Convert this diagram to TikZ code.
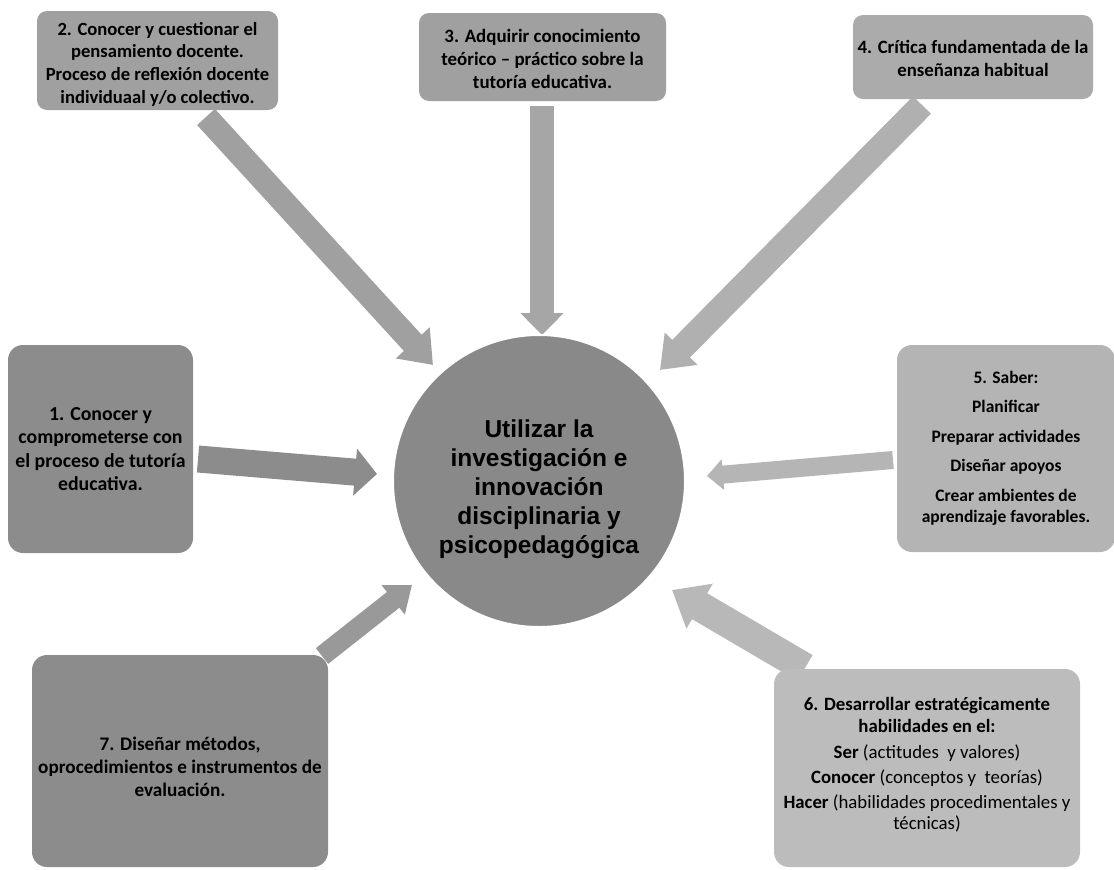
\documentclass[tikz,border=0pt]{standalone}
\usepackage{fontspec}
\setmainfont{Carlito}
\newfontfamily\titlefont{Liberation Sans}
\usetikzlibrary{arrows.meta}
\definecolor{gA}{HTML}{A0A0A0}
\definecolor{gB}{HTML}{ABABAB}
\definecolor{gC}{HTML}{8C8C8C}
\definecolor{gD}{HTML}{B4B4B4}
\definecolor{gE}{HTML}{BCBCBC}
\definecolor{gF}{HTML}{898989}
\definecolor{aA}{HTML}{A0A0A0}
\definecolor{aB}{HTML}{A6A6A6}
\definecolor{aC}{HTML}{B0B0B0}
\definecolor{aD}{HTML}{8C8C8C}
\definecolor{aE}{HTML}{B5B5B5}
\definecolor{aF}{HTML}{B8B8B8}
\definecolor{aG}{HTML}{999999}
\tikzset{
  boxstyle/.style={rounded corners=10pt, inner sep=0pt, align=center,
    font=\bfseries\fontsize{18.6}{22.7}\selectfont, text=black},
  bigbox/.style={boxstyle, rounded corners=15pt},
  fatarrow/.style={line cap=butt},
  boxtext/.style={align=center, inner sep=0pt, text=black}
}
\begin{document}
\begin{tikzpicture}[x=1pt,y=-1pt]
\useasboundingbox (0,0) rectangle (1114,870);

% arrow coordinates
\coordinate (t2) at (206,117); \coordinate (h2) at (433,365);
\coordinate (t3) at (542,106); \coordinate (h3) at (542,335);
\coordinate (t4) at (922,105); \coordinate (h4) at (660,370);
\coordinate (t1) at (198,459); \coordinate (h1) at (377,474);
\coordinate (t5) at (893,460); \coordinate (h5) at (707,476);
\coordinate (t6) at (805,668); \coordinate (h6) at (672,590);
\coordinate (t7) at (322,656); \coordinate (h7) at (412,585);

\draw[fatarrow, aA, line width=24pt, -{Triangle[length=30pt,width=44pt]}] (t2) -- (h2);
\draw[fatarrow, aB, line width=24pt, -{Triangle[length=22pt,width=42pt]}] (t3) -- (h3);
\draw[fatarrow, aC, line width=25pt, -{Triangle[length=30pt,width=44pt]}] (t4) -- (h4);
\draw[fatarrow, aD, line width=27pt, -{Triangle[length=22pt,width=46pt]}] (t1) -- (h1);
\draw[fatarrow, aE, line width=18pt, -{Triangle[length=16pt,width=30pt]}] (t5) -- (h5);
\draw[fatarrow, aF, line width=30pt, -{Triangle[length=32pt,width=50pt]}] (t6) -- (h6);
\draw[fatarrow, aG, line width=20pt, -{Triangle[length=24pt,width=36pt]}] (t7) -- (h7);

% central circle
\node[circle, fill=gF, draw=white, line width=2pt, minimum size=292pt, inner sep=0pt] (c) at (539,481) {};
\node[align=center, inner sep=0pt, font=\titlefont\bfseries\fontsize{24.5}{29}\selectfont] (ct) at (539,489)
  {Utilizar la\\investigación e\\innovación\\disciplinaria y\\psicopedagógica};

% boxes
\node[boxstyle, fill=gA, minimum width=241pt, minimum height=99pt] (b2) at (157.5,60.5) {};
\node[boxtext, font=\bfseries\fontsize{18.6}{22.7}\selectfont] (b2t) at (157.5,64)
  {2. Conocer y cuestionar el\\pensamiento docente.\\Proceso de reflexión docente\\individuaal y/o colectivo.};
\node[boxstyle, fill=gA, minimum width=247pt, minimum height=88pt] (b3) at (542.5,57) {};
\node[boxtext, font=\bfseries\fontsize{18.9}{22.7}\selectfont] (b3t) at (542.5,59)
  {3. Adquirir conocimiento\\teórico -- práctico sobre la\\tutoría educativa.};
\node[boxstyle, fill=gB, minimum width=240pt, minimum height=84pt] (b4) at (973,57) {};
\node[boxtext, font=\bfseries\fontsize{18.8}{23}\selectfont] (b4t) at (973,58)
  {4. Crítica fundamentada de la\\enseñanza habitual};
\node[bigbox, fill=gC, minimum width=185pt, minimum height=208pt] (b1) at (100.5,449) {};
\node[boxtext, font=\bfseries\fontsize{19.8}{23.3}\selectfont] (b1t) at (100.5,449)
  {1. Conocer y\\comprometerse con\\el proceso de tutoría\\educativa.};
\node[bigbox, fill=gD, minimum width=218pt, minimum height=207pt] (b5) at (1006,448.5) {};
\node[boxtext, font=\bfseries\fontsize{17.5}{21.5}\selectfont] (b5t) at (1006,448.5)
  {5. Saber:\\[8pt]Planificar\\[8pt]Preparar actividades\\[8pt]Diseñar apoyos\\[8pt]Crear ambientes de\\aprendizaje favorables.};
\node[bigbox, fill=gE, minimum width=306pt, minimum height=198pt] (b6) at (927,768) {};
\node[boxtext, font=\fontsize{18.8}{21.8}\selectfont] (b6t) at (927,765)
  {\textbf{6. Desarrollar estratégicamente}\\\textbf{habilidades en el:}\\[4pt]
   \textbf{Ser} (actitudes\ \ y valores)\\[3pt]
   \textbf{Conocer} (conceptos y\ \ teorías)\\[3pt]
   \textbf{Hacer} (habilidades procedimentales y\\técnicas)};
\node[bigbox, fill=gC, minimum width=296pt, minimum height=212pt] (b7) at (180,761) {};
\node[boxtext, font=\bfseries\fontsize{19.2}{23}\selectfont] (b7t) at (180,767)
  {7. Diseñar métodos,\\oprocedimientos e instrumentos de\\evaluación.};
\end{tikzpicture}
\end{document}
